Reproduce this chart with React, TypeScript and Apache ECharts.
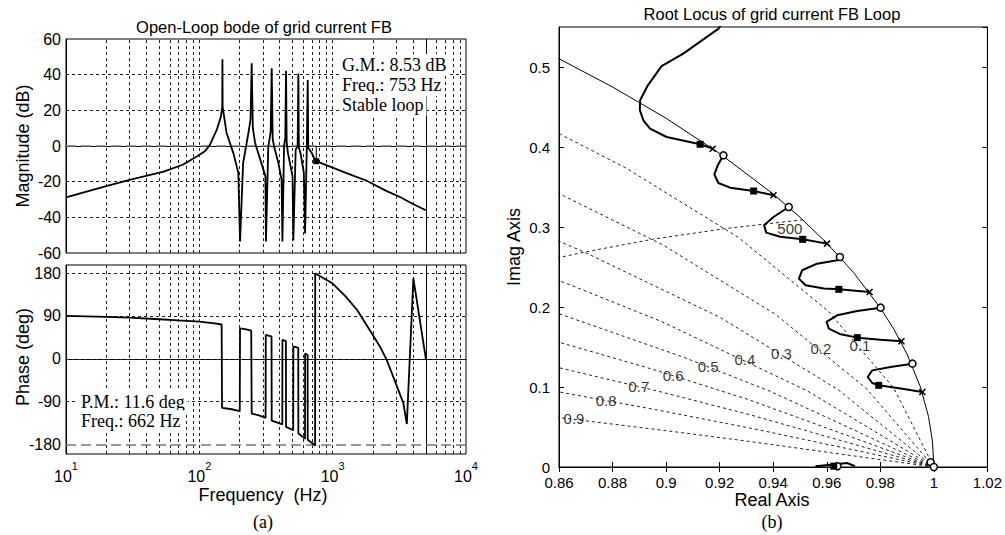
import React, { useEffect, useRef } from 'react';
import * as echarts from 'echarts';

const SANS = '"Liberation Sans", Arial, sans-serif';
const SERIF = '"Liberation Serif", "Times New Roman", serif';

// ---------- Bode data (frequency in Hz) ----------
const magFreq = [10, 20, 30, 54, 75, 95, 110, 120, 135, 145, 148.5, 149, 149.6, 160, 180, 196, 202, 213, 233, 242, 247, 252, 262, 292, 313, 316, 329, 343, 349, 355, 363, 392, 414, 420, 432, 441, 447, 452, 462, 500, 507, 528, 546, 553, 558, 574, 608, 621, 640, 650, 656, 698, 738, 753, 955, 1300, 1800, 2500, 3200, 4000, 5000];
const magDb = [-28.8, -22.5, -19, -14.4, -10.5, -6, -3, 0.6, 9, 16.4, 22, 48.6, 22, 7.3, -4, -15, -53.5, -9.6, 7, 14.6, 46.4, 10, 1.7, -9.6, -17, -53.5, -0.4, 8, 43.6, 4, 0, -9.6, -19, -53.5, 0, 4.3, 42.2, 2, -4, -17, -53, -2, 0, 40.7, -1, -4, -15, -49, 0, 37, -1, -4, -8, -8.5, -11.6, -15.5, -19.5, -25, -28.6, -32.5, -36];

const phaseFreq = [10, 20, 30, 50, 70, 100, 130, 147, 148, 175, 201, 202, 225, 245, 247, 280, 314, 315, 335, 348, 349, 385, 419, 420, 446, 447, 480, 506, 507, 552, 553, 590, 620, 621, 649, 650, 700, 738, 740, 800, 1000, 1250, 1530, 2000, 2300, 2540, 2940, 3390, 3600, 4030, 5000];
const phaseDeg = [90, 88, 86.5, 83, 80.5, 78, 74.5, 72, -103, -106, -110, 64, 62, 59, -115, -119, -124, 50, 48, 47, -130, -134, -138, 40, 37, -143, -147, -150, 26, 23, -157, -163, -168, 11, 8, -170, -177, -182, 179, 174, 158, 131, 102, 50, 22, -2, -48, -93, -137, 169, 0];

const gainMargin = { freq: 753, db: -8.5 };
const minorFreqs = [20, 30, 40, 50, 60, 70, 80, 90, 100, 200, 300, 400, 500, 600, 700, 800, 900, 1000, 2000, 3000, 4000, 5000, 6000, 7000, 8000, 9000];
const nyquistFreq = 5000;
const magGridValues = [-40, -20, 20, 40];
const magRefValue = 0;
const phaseGridValues = [180, 90, 0, -90];
const phaseRefValue = -180;
const phaseTickValues = [-180, -90, 0, 90, 180];

// ---------- Root locus data ----------
const unitCircle = [[0.855, 0.5186], [0.86, 0.5103], [0.88, 0.475], [0.9, 0.4359], [0.92, 0.3919], [0.94, 0.3412], [0.95, 0.3122], [0.96, 0.28], [0.97, 0.2431], [0.98, 0.199], [0.985, 0.1726], [0.99, 0.1411], [0.995, 0.0999], [0.998, 0.0632], [0.9995, 0.0316], [1, 0]];

const dampingRatios = ['0.1', '0.2', '0.3', '0.4', '0.5', '0.6', '0.7', '0.8', '0.9'];
const dampingLines = [
  [[1, 0], [0.985, 0.0988], [0.9606, 0.1947], [0.927, 0.287], [0.8848, 0.3741], [0.8606, 0.4157], [0.8556, 0.4238]],
  [[1, 0], [0.9749, 0.0978], [0.9409, 0.1907], [0.8986, 0.278], [0.8615, 0.3393], [0.8567, 0.3472]],
  [[1, 0], [0.9642, 0.0967], [0.9204, 0.1866], [0.8693, 0.2689], [0.8584, 0.2845]],
  [[1, 0], [0.9525, 0.0956], [0.8981, 0.1821], [0.8628, 0.2295], [0.8567, 0.2371]],
  [[1, 0], [0.9392, 0.0942], [0.9067, 0.137], [0.8595, 0.1922]],
  [[1, 0], [0.9309, 0.0841], [0.8955, 0.1216], [0.8596, 0.1564]],
  [[1, 0], [0.9314, 0.0653], [0.8972, 0.0946], [0.8584, 0.1254]],
  [[1, 0], [0.9343, 0.0467], [0.8959, 0.0718], [0.8584, 0.0948]],
  [[1, 0], [0.9297, 0.0326], [0.9008, 0.0451], [0.8578, 0.0627]],
];
const dampingLabelPos = [[0.9724, 0.152], [0.9578, 0.148], [0.9431, 0.1425], [0.9294, 0.135], [0.9157, 0.126], [0.9026, 0.1146], [0.8898, 0.1009], [0.8776, 0.0834], [0.8656, 0.0605]];
const wnLabel = '500';
const wnLabelPos = [0.9462, 0.298];
const wn500Line = [[0.9511, 0.309], [0.9221, 0.298], [0.895, 0.2847], [0.8696, 0.2687], [0.8573, 0.2598]];

const branches = [
  [[0.9174, 0.3979], [0.9127, 0.4034], [0.9002, 0.4125], [0.894, 0.423], [0.8915, 0.4334], [0.8902, 0.446], [0.8903, 0.4584], [0.893, 0.476], [0.8983, 0.501], [0.9064, 0.5167], [0.9196, 0.548], [0.921, 0.556]],
  [[0.9214, 0.3896], [0.9193, 0.3771], [0.918, 0.3659], [0.9195, 0.355], [0.9239, 0.3492], [0.9327, 0.345], [0.9401, 0.3396]],
  [[0.9458, 0.325], [0.9401, 0.3125], [0.9366, 0.3021], [0.9374, 0.293], [0.9426, 0.2879], [0.951, 0.2846], [0.9601, 0.2792]],
  [[0.9649, 0.2625], [0.9639, 0.2584], [0.9564, 0.2542], [0.9508, 0.2459], [0.9496, 0.2355], [0.9521, 0.2271], [0.9589, 0.223], [0.9645, 0.2221], [0.976, 0.2188]],
  [[0.9801, 0.1992], [0.9714, 0.195], [0.9639, 0.1896], [0.9599, 0.1813], [0.9608, 0.1729], [0.9652, 0.1659], [0.9714, 0.1617], [0.9801, 0.1592], [0.9879, 0.1571]],
  [[0.992, 0.1292], [0.9838, 0.125], [0.977, 0.1208], [0.9753, 0.1125], [0.977, 0.105], [0.9794, 0.1021], [0.9876, 0.098], [0.9957, 0.0938]],
  [[0.9558, 0.001], [0.9626, 0.003], [0.9676, 0.005], [0.9705, 0.001]],
];
const openLoopPoles = [[0.9174, 0.3979], [0.9401, 0.3396], [0.9601, 0.2792], [0.976, 0.2188], [0.9879, 0.1571], [0.9957, 0.0938]];
const openLoopZeros = [[0.9214, 0.3896], [0.9458, 0.325], [0.9649, 0.2625], [0.9801, 0.1992], [0.992, 0.1292], [0.9988, 0.006], [1.0, 0.0], [0.964, 0.001]];
const closedLoopPoles = [[0.9127, 0.4034], [0.9327, 0.345], [0.951, 0.2846], [0.9645, 0.2221], [0.9714, 0.1617], [0.9794, 0.1021], [0.9626, 0.001]];

function buildOption(): any {
  const dotted = { color: '#222', width: 1, type: [3, 3] };
  const refDash = { color: '#777', width: 1.5, type: [10, 5] };
  const solid = { color: '#000', width: 1, type: 'solid' };
  const vLines = minorFreqs
    .filter((f) => f !== nyquistFreq)
    .map((f) => ({ xAxis: f, lineStyle: dotted }))
    .concat([{ xAxis: nyquistFreq, lineStyle: solid } as any]);
  const ml = (data: any[]) => ({ silent: true, symbol: ['none', 'none'], label: { show: false }, data, animation: false });

  const magLines = ml([
    ...vLines,
    ...magGridValues.map((v) => ({ yAxis: v, lineStyle: dotted })),
    { yAxis: magRefValue, lineStyle: refDash },
  ]);
  const phaseLines = ml([
    ...vLines,
    ...phaseGridValues.map((v) => ({ yAxis: v, lineStyle: dotted })),
    { yAxis: phaseRefValue, lineStyle: refDash },
  ]);

  const logAxisBase = {
    type: 'log', logBase: 10, min: 10, max: 10000,
    axisLine: { lineStyle: { color: '#000' } },
    axisTick: { show: false }, splitLine: { show: false },
  };

  const rlX = { type: 'value', gridIndex: 2, min: 0.86, max: 1.02, interval: 0.02, splitLine: { show: false } };
  const rlY = { type: 'value', gridIndex: 2, min: 0, max: 0.55, interval: 0.1, splitLine: { show: false } };

  const series: any[] = [
    { type: 'line', xAxisIndex: 0, yAxisIndex: 0, data: [], markLine: magLines, z: 1 },
    { type: 'line', xAxisIndex: 1, yAxisIndex: 1, data: [], markLine: phaseLines, z: 1 },
    {
      type: 'line', xAxisIndex: 0, yAxisIndex: 0, symbol: 'none', z: 5,
      data: magFreq.map((f, i) => [f, magDb[i]]),
      lineStyle: { color: '#000', width: 1.8 },
    },
    {
      type: 'line', xAxisIndex: 0, yAxisIndex: 0, symbol: 'none', z: 5,
      data: [[gainMargin.freq, magRefValue], [gainMargin.freq, gainMargin.db]],
      lineStyle: { color: '#000', width: 1 },
    },
    {
      type: 'scatter', xAxisIndex: 0, yAxisIndex: 0, symbol: 'rect', symbolSize: 6, z: 6,
      data: [[gainMargin.freq, gainMargin.db]], itemStyle: { color: '#000', opacity: 1 },
    },
    {
      type: 'line', xAxisIndex: 1, yAxisIndex: 1, symbol: 'none', z: 5,
      data: phaseFreq.map((f, i) => [f, phaseDeg[i]]),
      lineStyle: { color: '#000', width: 1.8 },
    },
    // root locus
    {
      type: 'line', xAxisIndex: 2, yAxisIndex: 2, symbol: 'none', z: 3,
      data: unitCircle, lineStyle: { color: '#000', width: 1 },
    },
    ...dampingLines.map((pts) => ({
      type: 'line', xAxisIndex: 2, yAxisIndex: 2, symbol: 'none', z: 2,
      data: pts, lineStyle: { color: '#222', width: 1, type: [3, 3] },
    })),
    {
      type: 'line', xAxisIndex: 2, yAxisIndex: 2, symbol: 'none', z: 2,
      data: wn500Line, lineStyle: { color: '#222', width: 1, type: [3, 3] },
    },
    ...branches.map((pts) => ({
      type: 'line', xAxisIndex: 2, yAxisIndex: 2, symbol: 'none', z: 4,
      data: pts, lineStyle: { color: '#000', width: 2 },
    })),
    {
      type: 'scatter', xAxisIndex: 2, yAxisIndex: 2, z: 6,
      symbol: 'path://M0 0L10 10M10 0L0 10', symbolSize: 6,
      data: openLoopPoles,
      itemStyle: { color: 'rgba(0,0,0,0)', borderColor: '#000', borderWidth: 1.5, opacity: 1 },
    },
    {
      type: 'scatter', xAxisIndex: 2, yAxisIndex: 2, z: 6,
      symbol: 'circle', symbolSize: 7, data: openLoopZeros,
      itemStyle: { color: '#fff', borderColor: '#000', borderWidth: 1.5, opacity: 1 },
    },
    {
      type: 'scatter', xAxisIndex: 2, yAxisIndex: 2, z: 7,
      symbol: 'rect', symbolSize: 7, data: closedLoopPoles,
      itemStyle: { color: '#000', opacity: 1 },
    },
    {
      type: 'scatter', xAxisIndex: 2, yAxisIndex: 2, z: 8, symbolSize: 0,
      data: [
        ...dampingLabelPos.map((p, i) => ({ value: p, name: dampingRatios[i] })),
        { value: wnLabelPos, name: wnLabel },
      ],
      label: { show: true, position: 'inside', formatter: '{b}', color: '#000', fontSize: 15, fontFamily: SANS },
    },
  ];

  const txt = (text: string, x: number, y: number, size: number, extra: any = {}) => ({
    type: 'text', x, y, z: 100,
    rotation: extra.rotation || 0,
    style: {
      text, fill: '#000', font: `${size}px ${extra.family || SANS}`,
      textAlign: extra.align || 'center', textVerticalAlign: 'middle',
      ...(extra.bg ? { backgroundColor: '#fff', padding: [2, 3, 2, 3] } : {}),
    },
  });

  return {
    animation: false,
    backgroundColor: '#fff',
    textStyle: { fontFamily: SANS },
    grid: [
      { left: 66, top: 39, width: 400, height: 214, show: true, borderColor: '#000', borderWidth: 1, backgroundColor: 'transparent' },
      { left: 66, top: 265, width: 400, height: 189, show: true, borderColor: '#000', borderWidth: 1, backgroundColor: 'transparent' },
      { left: 559, top: 27, width: 429, height: 440, show: true, borderColor: '#000', borderWidth: 1, backgroundColor: 'transparent' },
    ],
    xAxis: [
      { ...logAxisBase, gridIndex: 0, axisLabel: { show: false } },
      {
        ...logAxisBase, gridIndex: 1,
        axisLabel: {
          show: true, margin: 6, color: '#000',
          formatter: (v: number) => `{b|10}{s|${Math.round(Math.log10(v))}}`,
          rich: {
            b: { fontSize: 16, lineHeight: 24, verticalAlign: 'bottom', fontFamily: SANS, color: '#000' },
            s: { fontSize: 11, verticalAlign: 'top', fontFamily: SANS, color: '#000' },
          },
        },
      },
      {
        ...rlX, position: 'bottom',
        axisLine: { lineStyle: { color: '#000' } },
        axisTick: { inside: true, length: 5, lineStyle: { color: '#000' } },
        axisLabel: { color: '#000', fontSize: 15, margin: 8 },
      },
      {
        ...rlX, position: 'top',
        axisLine: { lineStyle: { color: '#000' } },
        axisTick: { inside: true, length: 5, lineStyle: { color: '#000' } },
        axisLabel: { show: false },
      },
    ],
    yAxis: [
      {
        type: 'value', gridIndex: 0, min: -60, max: 60, interval: 20,
        axisLine: { show: true, lineStyle: { color: '#000' } }, axisTick: { show: false }, splitLine: { show: false },
        axisLabel: { color: '#000', fontSize: 16, margin: 5 },
      },
      {
        type: 'value', gridIndex: 1, min: -200, max: 197,
        axisLine: { show: true, lineStyle: { color: '#000' } },
        axisTick: { show: false, customValues: phaseTickValues }, splitLine: { show: false },
        axisLabel: { color: '#000', fontSize: 16, margin: 5, customValues: phaseTickValues },
      },
      {
        ...rlY, position: 'left',
        axisLine: { show: true, lineStyle: { color: '#000' } },
        axisTick: { show: true, inside: true, length: 5, lineStyle: { color: '#000' } },
        axisLabel: { color: '#000', fontSize: 15, margin: 9, showMaxLabel: false },
      },
      {
        ...rlY, position: 'right',
        axisLine: { show: true, lineStyle: { color: '#000' } },
        axisTick: { show: true, inside: true, length: 5, lineStyle: { color: '#000' } },
        axisLabel: { show: false },
      },
    ],
    series,
    graphic: [
      txt('Open-Loop bode of grid current FB', 264, 27, 16.5),
      txt('Magnitude (dB)', 23, 146, 18, { rotation: Math.PI / 2 }),
      txt('Phase (deg)', 23, 357, 18, { rotation: Math.PI / 2 }),
      txt('Frequency  (Hz)', 263, 495, 18),
      txt('(a)', 263, 522, 18, { family: SERIF }),
      txt('G.M.: 8.53 dB', 339, 65, 18, { family: SERIF, align: 'left', bg: true }),
      txt('Freq.: 753 Hz', 339, 85, 18, { family: SERIF, align: 'left', bg: true }),
      txt('Stable loop', 339, 105, 18, { family: SERIF, align: 'left', bg: true }),
      txt('P.M.: 11.6 deg', 78, 402, 18, { family: SERIF, align: 'left', bg: true }),
      txt('Freq.: 662 Hz', 78, 421, 18, { family: SERIF, align: 'left', bg: true }),
      txt('Root Locus of grid current FB Loop', 772, 14, 16.5),
      txt('Imag Axis', 514, 247, 18, { rotation: Math.PI / 2 }),
      txt('Real Axis', 772, 500, 18),
      txt('(b)', 772, 522, 18, { family: SERIF }),
    ],
  };
}

export default function App() {
  const ref = useRef<HTMLDivElement>(null);
  useEffect(() => {
    document.body.style.margin = '0';
    const chart = echarts.init(ref.current!, null, { renderer: 'svg' });
    chart.setOption(buildOption());
    return () => chart.dispose();
  }, []);
  return <div ref={ref} style={{ width: 1005, height: 535, background: '#fff' }} />;
}
